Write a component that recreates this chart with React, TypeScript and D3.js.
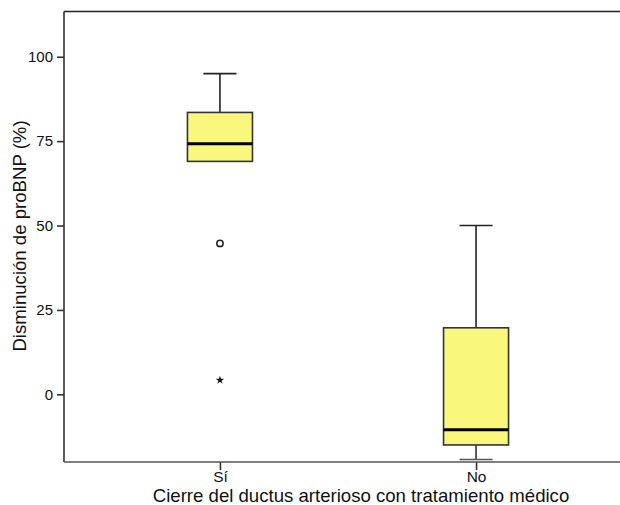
import * as d3 from 'd3';
import * as React from 'react';

const { useRef, useEffect } = React;

const width = 620;
const height = 505;
const margin = { top: 11.5, right: -12, bottom: 43, left: 64 };

// values
const categories = ['Sí', 'No'];
const whiskerLow = [69, -19.3];
const q1 = [69, -15];
const median = [74.2, -10.5];
const q3 = [83.5, 19.7];
const whiskerHigh = [95, 50];
const outlierCat = ['Sí', 'Sí'];
const outlierValue = [44.7, 4.2];
const outlierKind = ['circle', 'star'];
const yTicks = [0, 25, 50, 75, 100];

type Box = {
  cat: string;
  lo: number;
  q1: number;
  med: number;
  q3: number;
  hi: number;
};

const boxes: Box[] = categories.map((c, i) => ({
  cat: c,
  lo: whiskerLow[i],
  q1: q1[i],
  med: median[i],
  q3: q3[i],
  hi: whiskerHigh[i],
}));

const outliers = outlierCat.map((c, i) => ({
  cat: c,
  value: outlierValue[i],
  kind: outlierKind[i],
}));

export default () => {
  const rootRef = useRef<HTMLDivElement>(null);

  useEffect(() => {
    const rootEl = rootRef.current;
    if (!rootEl) {
      return;
    }
    d3.select(rootEl).selectAll('*').remove();

    const font = '"Liberation Sans", Arial, sans-serif';

    const x = d3
      .scalePoint<string>()
      .domain(categories)
      .range([margin.left, width - margin.right])
      .padding(0.609);

    const y = d3
      .scaleLinear()
      .domain([-20.05, 113.4])
      .range([height - margin.bottom, margin.top]);

    const svg = d3
      .select(rootEl)
      .append('svg')
      .attr('width', width)
      .attr('height', height)
      .style('display', 'block')
      .style('font-family', font);

    // frame: top line
    svg
      .append('line')
      .attr('x1', margin.left)
      .attr('x2', width)
      .attr('y1', margin.top)
      .attr('y2', margin.top)
      .attr('stroke', '#222')
      .attr('stroke-width', 1.6);

    // y axis
    const yAxis = svg
      .append('g')
      .attr('transform', `translate(${margin.left},0)`)
      .call(d3.axisLeft(y).tickValues(yTicks).tickSize(7).tickPadding(4));
    yAxis.select('.domain').remove();
    yAxis
      .append('line')
      .attr('x1', 0)
      .attr('x2', 0)
      .attr('y1', margin.top)
      .attr('y2', height - margin.bottom)
      .attr('stroke', '#333')
      .attr('stroke-width', 1.6);
    yAxis.selectAll('.tick line').attr('stroke', '#333').attr('stroke-width', 1.6);
    yAxis
      .selectAll('.tick text')
      .attr('fill', '#111')
      .style('font-size', '15px')
      .style('font-family', font);

    // x axis
    const xAxis = svg
      .append('g')
      .attr('transform', `translate(0,${height - margin.bottom})`)
      .call(d3.axisBottom(x).tickSize(8).tickPadding(1));
    xAxis.select('.domain').remove();
    xAxis
      .append('line')
      .attr('x1', margin.left)
      .attr('x2', width)
      .attr('stroke', '#555')
      .attr('stroke-width', 1.6);
    xAxis.selectAll('.tick line').attr('stroke', '#333').attr('stroke-width', 1.6);
    xAxis
      .selectAll('.tick text')
      .attr('fill', '#111')
      .style('font-size', '15.5px')
      .style('font-family', font);

    // axis titles
    svg
      .append('text')
      .attr('x', 361)
      .attr('y', 502)
      .attr('text-anchor', 'middle')
      .attr('fill', '#111')
      .style('font-size', '18.6px')
      .text('Cierre del ductus arterioso con tratamiento médico');

    svg
      .append('text')
      .attr('transform', `translate(26,236) rotate(-90)`)
      .attr('text-anchor', 'middle')
      .attr('fill', '#111')
      .style('font-size', '18.6px')
      .text('Disminución de proBNP (%)');

    const boxW = 65;
    const capW = 33;

    const g = svg.append('g').selectAll('g').data(boxes).join('g');

    // whiskers
    g.append('line')
      .attr('x1', d => x(d.cat) as number)
      .attr('x2', d => x(d.cat) as number)
      .attr('y1', d => y(d.hi))
      .attr('y2', d => y(d.q3))
      .attr('stroke', '#222')
      .attr('stroke-width', 1.6);
    g.append('line')
      .attr('x1', d => x(d.cat) as number)
      .attr('x2', d => x(d.cat) as number)
      .attr('y1', d => y(d.q1))
      .attr('y2', d => y(d.lo))
      .attr('stroke', '#333')
      .attr('stroke-width', 1.6);
    g.append('line')
      .attr('x1', d => (x(d.cat) as number) - capW / 2)
      .attr('x2', d => (x(d.cat) as number) + capW / 2)
      .attr('y1', d => y(d.hi))
      .attr('y2', d => y(d.hi))
      .attr('stroke', '#222')
      .attr('stroke-width', 1.6);
    g.filter(d => d.lo < d.q1)
      .append('line')
      .attr('x1', d => (x(d.cat) as number) - capW / 2)
      .attr('x2', d => (x(d.cat) as number) + capW / 2)
      .attr('y1', d => y(d.lo))
      .attr('y2', d => y(d.lo))
      .attr('stroke', '#555')
      .attr('stroke-width', 1.6);

    // boxes
    g.append('rect')
      .attr('x', d => (x(d.cat) as number) - boxW / 2)
      .attr('width', boxW)
      .attr('y', d => y(d.q3))
      .attr('height', d => y(d.q1) - y(d.q3))
      .attr('fill', '#f9f77c')
      .attr('stroke', '#333')
      .attr('stroke-width', 1.6);

    // medians
    g.append('line')
      .attr('x1', d => (x(d.cat) as number) - boxW / 2)
      .attr('x2', d => (x(d.cat) as number) + boxW / 2)
      .attr('y1', d => y(d.med))
      .attr('y2', d => y(d.med))
      .attr('stroke', '#000')
      .attr('stroke-width', 3);

    // outliers
    svg
      .append('g')
      .selectAll('circle')
      .data(outliers.filter(d => d.kind === 'circle'))
      .join('circle')
      .attr('cx', d => x(d.cat) as number)
      .attr('cy', d => y(d.value))
      .attr('r', 3.2)
      .attr('fill', 'none')
      .attr('stroke', '#222')
      .attr('stroke-width', 1.5);

    svg
      .append('g')
      .selectAll('path')
      .data(outliers.filter(d => d.kind === 'star'))
      .join('path')
      .attr(
        'transform',
        d => `translate(${x(d.cat)},${y(d.value)})`,
      )
      .attr('d', d3.symbol(d3.symbolStar, 22)() as string)
      .attr('fill', '#111');
  }, []);

  return (
    <div
      ref={rootRef}
      style={{ position: 'absolute', left: 0, top: 0, width, height }}
    />
  );
};
